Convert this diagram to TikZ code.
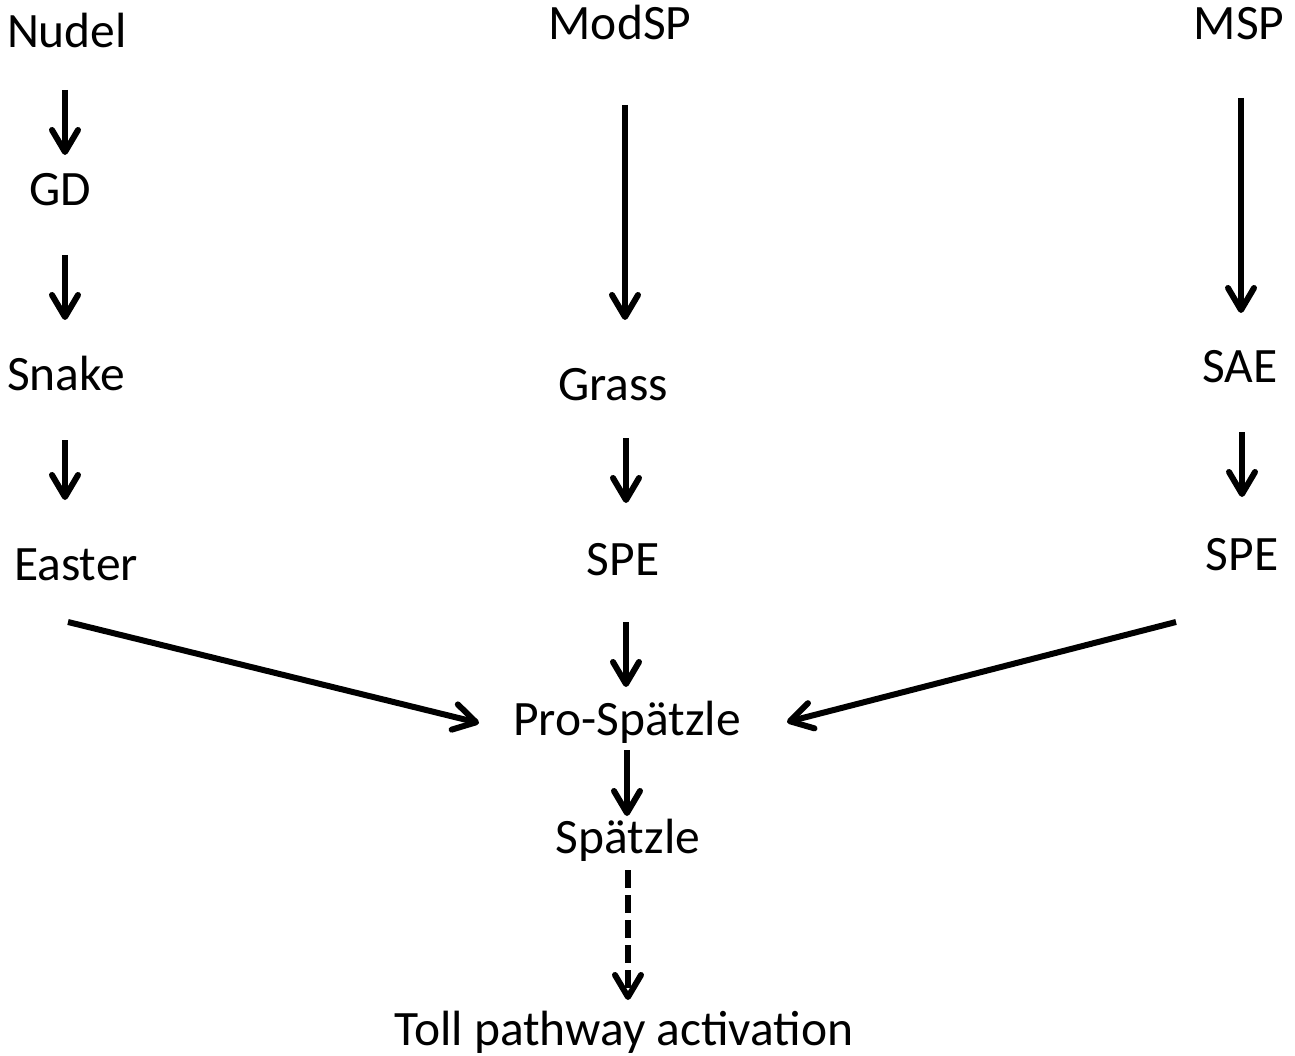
\documentclass[tikz,border=0pt]{standalone}
\usepackage{fontspec}
\setmainfont{Carlito}
\usetikzlibrary{arrows.meta}
\begin{document}
\begin{tikzpicture}[x=1pt,y=-1pt,
  lbl/.style={anchor=base,inner sep=0pt,font=\fontsize{49.5}{58}\selectfont},
  arr/.style={line width=6pt,-{Straight Barb[length=22pt,width=26pt,round]}},
  dasharr/.style={arr,dash pattern=on 18pt off 7pt}]
\useasboundingbox (0,0) rectangle (1295,1056);
% labels, placed on their baselines
\node[lbl] (nudel) at (67,48)   {Nudel};
\node[lbl] (gd)    at (60,206)  {GD};
\node[lbl] (snake) at (66,390)  {Snake};
\node[lbl] (easter)at (76,580)  {Easter};
\node[lbl] (modsp) at (620,40)  {ModSP};
\node[lbl] (grass) at (613,400) {Grass};
\node[lbl] (spea)  at (623,575) {SPE};
\node[lbl] (msp)   at (1239,40) {MSP};
\node[lbl] (sae)   at (1240,382){SAE};
\node[lbl] (speb)  at (1242,570){SPE};
\node[lbl] (pro)   at (627,735) {Pro-Spätzle};
\node[lbl] (spz)   at (628,853) {Spätzle};
\node[lbl] (toll)  at (624,1045){Toll pathway activation};
% cascade arrows
\draw[arr] ([xshift=-2pt,yshift=-42pt]nudel.base) -- ([xshift=5pt,yshift=51pt]gd.base);
\draw[arr] ([xshift=5pt,yshift=-49pt]gd.base) -- ([xshift=-1pt,yshift=70pt]snake.base);
\draw[arr] ([xshift=-1pt,yshift=-50pt]snake.base) -- ([xshift=-11pt,yshift=80pt]easter.base);
\draw[arr] ([xshift=5pt,yshift=-65pt]modsp.base) -- ([xshift=12pt,yshift=80pt]grass.base);
\draw[arr] ([xshift=13pt,yshift=-38pt]grass.base) -- ([xshift=3pt,yshift=72pt]spea.base);
\draw[arr] ([xshift=3pt,yshift=-47pt]spea.base) -- ([xshift=-1pt,yshift=48pt]pro.base);
\draw[arr] ([xshift=2pt,yshift=-58pt]msp.base) -- ([xshift=1pt,yshift=69pt]sae.base);
\draw[arr] ([xshift=2pt,yshift=-50pt]sae.base) -- ([xshift=0pt,yshift=73pt]speb.base);
\draw[arr] ([xshift=-8pt,yshift=-42pt]easter.base) -- ([xshift=-148pt,yshift=12pt]pro.base);
\draw[arr] ([xshift=-66pt,yshift=-52pt]speb.base) -- ([xshift=160pt,yshift=13pt]pro.base);
\draw[arr] ([xshift=0pt,yshift=-15pt]pro.base) -- ([xshift=-1pt,yshift=37pt]spz.base);
\draw[dasharr] ([xshift=0pt,yshift=-17pt]spz.base) -- ([xshift=4pt,yshift=45pt]toll.base);
\end{tikzpicture}
\end{document}
